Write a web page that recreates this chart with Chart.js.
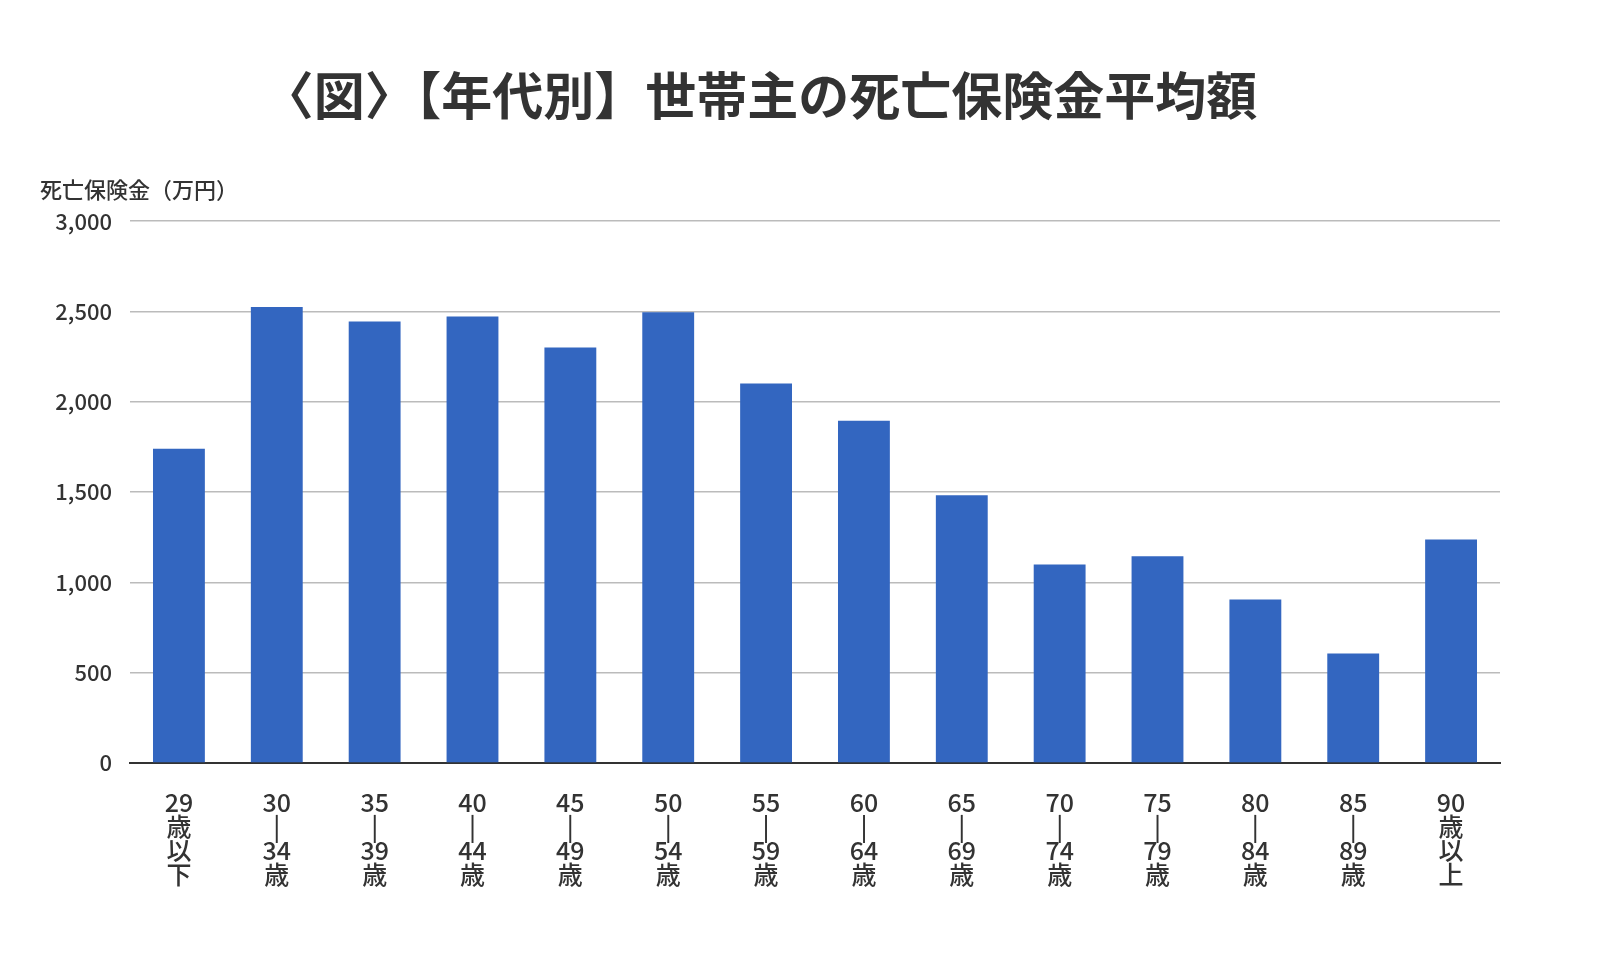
<!DOCTYPE html>
<html>
<head>
<meta charset="utf-8">
<script src="https://cdn.jsdelivr.net/npm/chart.js@4/dist/chart.umd.min.js"></script>
<style>
  html, body { margin: 0; padding: 0; background: #fff; }
  #wrap { width: 1600px; height: 976px; }
</style>
</head>
<body>
<div id="wrap"><canvas id="chart"></canvas></div>
<script>
// Data
const categories = [
    ['29', '歳', '以', '下'],
    ['30', '|', '34', '歳'],
    ['35', '|', '39', '歳'],
    ['40', '|', '44', '歳'],
    ['45', '|', '49', '歳'],
    ['50', '|', '54', '歳'],
    ['55', '|', '59', '歳'],
    ['60', '|', '64', '歳'],
    ['65', '|', '69', '歳'],
    ['70', '|', '74', '歳'],
    ['75', '|', '79', '歳'],
    ['80', '|', '84', '歳'],
    ['85', '|', '89', '歳'],
    ['90', '歳', '以', '上']
];
const deathBenefit = [1740, 2525, 2445, 2473, 2301, 2496, 2101, 1895, 1483, 1099, 1145, 905, 607, 1237];
const chartTitle = '〈図〉【年代別】世帯主の死亡保険金平均額';
const yAxisTitle = '死亡保険金（万円）';

const FONT = "'Noto Sans CJK JP', 'Noto Sans', sans-serif";

// Draws the y axis caption above the tick labels
const yCaptionPlugin = {
    id: 'yCaption',
    afterDraw(chart) {
        const c = chart.ctx;
        c.save();
        c.font = `500 22px ${FONT}`;
        c.fillStyle = '#333';
        c.textBaseline = 'middle';
        c.textAlign = 'left';
        c.fillText(yAxisTitle, 40, 190);
        c.restore();
    }
};

new Chart(document.getElementById('chart'), {
    type: 'bar',
    data: {
        labels: categories,
        datasets: [{
            data: deathBenefit,
            backgroundColor: '#3366c0',
            barPercentage: 0.53,
            categoryPercentage: 1
        }]
    },
    options: {
        responsive: true,
        maintainAspectRatio: false,
        animation: false,
        layout: { padding: { left: 20, right: 100, top: 35, bottom: 70 } },
        plugins: {
            legend: { display: false },
            tooltip: { enabled: false },
            title: {
                display: true,
                text: chartTitle,
                color: '#333',
                font: { family: FONT, size: 51, weight: 'bold' },
                padding: { top: 30, bottom: 95 }
            }
        },
        scales: {
            y: {
                min: 0,
                max: 3000,
                afterFit: s => { s.width = 110; },
                ticks: {
                    stepSize: 500,
                    color: '#333',
                    padding: 18,
                    font: { family: FONT, size: 22, weight: '500' },
                    callback: v => v.toLocaleString('en-US')
                },
                grid: { color: '#bbb', lineWidth: 1.5, drawTicks: false },
                border: { display: false }
            },
            x: {
                ticks: {
                    color: '#333',
                    padding: 20,
                    maxRotation: 0,
                    autoSkip: false,
                    font: { family: FONT, size: 25, weight: '500', lineHeight: 0.95 }
                },
                grid: { display: false },
                border: { color: '#333', width: 2 }
            }
        }
    },
    plugins: [yCaptionPlugin]
});
</script>
</body>
</html>
